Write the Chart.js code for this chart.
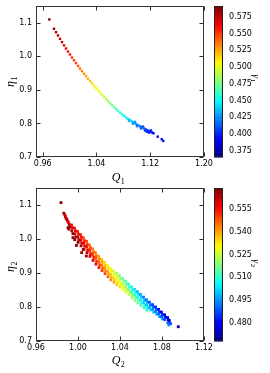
<!DOCTYPE html>
<html lang="en">
<head>
<meta charset="UTF-8">
<script src="https://cdn.jsdelivr.net/npm/chart.js@4"></script>
<title>Q vs eta scatter</title>
<style>
    html, body { margin: 0; padding: 0; background: #fff; }
    #wrap { position: relative; width: 270px; height: 373px; }
    canvas { position: absolute; left: 0; }
</style>
</head>
<body>
<div id="wrap">
    <canvas id="top" width="270" height="186" style="top:0"></canvas>
    <canvas id="bottom" width="270" height="187" style="top:186px"></canvas>
</div>
<script>
// ---- top panel: Q1 / eta1, colour = gamma1
const q1 = [
    0.9698,
    0.9768, 0.9798, 0.9827, 0.9857, 0.9887, 0.9917, 0.9946, 0.9976, 1.0006, 1.0036,
    1.0065, 1.0095, 1.0125, 1.0155, 1.0185, 1.0214, 1.0244, 1.0274, 1.0304, 1.0333,
    1.0363, 1.0393, 1.0423, 1.0452, 1.0482, 1.0512, 1.0542, 1.0571, 1.0601, 1.0631,
    1.0661, 1.0690, 1.0720, 1.0750, 1.0780, 1.0810, 1.0839, 1.0869, 1.0899, 1.0929,
    1.0958, 1.0988, 1.1018, 1.1048, 1.1077, 1.1107, 1.1137, 1.1167, 1.1196, 1.1226,
    1.1249,
    1.0884, 1.0943, 1.1003, 1.1062, 1.1122, 1.1182, 1.1211, 1.1092, 1.0973, 1.1152,
    1.1311, 1.1371, 1.1394
];
const eta1 = [
    1.110,
    1.0821, 1.0719, 1.0621, 1.0519, 1.0424, 1.0328, 1.0233, 1.0143, 1.0054, 0.9964,
    0.9881, 0.9797, 0.9713, 0.9636, 0.9558, 0.9481, 0.9409, 0.9334, 0.9263, 0.9194,
    0.9122, 0.9054, 0.8988, 0.8922, 0.8857, 0.8794, 0.8731, 0.8669, 0.8609, 0.8549,
    0.8490, 0.8433, 0.8379, 0.8322, 0.8275, 0.8227, 0.8179, 0.8137, 0.8099, 0.8057,
    0.8021, 0.7985, 0.7949, 0.7916, 0.7884, 0.7851, 0.7821, 0.7791, 0.7761, 0.7731,
    0.7707,
    0.8075, 0.7991, 0.7919, 0.7854, 0.7788, 0.7728, 0.7791, 0.7910, 0.8045, 0.7752,
    0.7606, 0.7528, 0.7478
];
const g1 = [
    0.590,
    0.586, 0.583, 0.580, 0.576, 0.573, 0.569, 0.565, 0.562, 0.558, 0.554,
    0.550, 0.547, 0.543, 0.539, 0.535, 0.531, 0.527, 0.524, 0.520, 0.516,
    0.512, 0.508, 0.504, 0.500, 0.497, 0.493, 0.489, 0.485, 0.481, 0.477,
    0.473, 0.469, 0.465, 0.461, 0.457, 0.453, 0.449, 0.445, 0.441, 0.437,
    0.433, 0.429, 0.425, 0.421, 0.417, 0.413, 0.409, 0.405, 0.401, 0.397,
    0.394,
    0.436, 0.428, 0.421, 0.413, 0.405, 0.398, 0.399, 0.414, 0.427, 0.400,
    0.392, 0.396, 0.398
];
const xTicks1 = [0.96, 1.04, 1.12, 1.20];
const cbTicks1 = [0.375, 0.400, 0.425, 0.450, 0.475, 0.500, 0.525, 0.550, 0.575];

// ---- bottom panel: Q2 / eta2, colour = gamma2
const q2 = [
    0.9838,
    0.9865, 0.9874, 0.9880,
    0.9886, 0.9895, 0.9902,
    0.9908, 0.9916, 0.9921, 0.9913,
    0.9938, 0.9947, 0.9941, 0.9952,
    0.9966, 0.9976, 0.9970, 0.9980, 0.9969,
    0.9996, 1.0006, 0.9999, 1.0008, 1.0001,
    0.9905, 0.9952, 1.0035, 1.0050, 0.9985, 1.0080,
    1.0024, 1.0033, 1.0027, 1.0036, 1.0029,
    1.0051, 1.0062, 1.0055, 1.0064, 1.0057,
    1.0082, 1.0090, 1.0083, 1.0092, 1.0086,
    1.0109, 1.0118, 1.0112, 1.0121, 1.0114,
    1.0139, 1.0148, 1.0141, 1.0150, 1.0143,
    1.0166, 1.0175, 1.0169, 1.0178, 1.0171,
    1.0196, 1.0204, 1.0198, 1.0207, 1.0200,
    1.0224, 1.0233, 1.0227, 1.0236, 1.0229,
    1.0253, 1.0262, 1.0255, 1.0264, 1.0257,
    1.0281, 1.0290, 1.0284, 1.0293, 1.0286,
    1.0310, 1.0319, 1.0312, 1.0321, 1.0314,
    1.0338, 1.0347, 1.0341, 1.0350, 1.0343,
    1.0367, 1.0376, 1.0369, 1.0378, 1.0371,
    1.0395, 1.0404, 1.0398, 1.0407, 1.0400,
    1.0424, 1.0433, 1.0427, 1.0436, 1.0429,
    1.0452, 1.0461, 1.0455, 1.0464, 1.0457,
    1.0481, 1.0490, 1.0484, 1.0493, 1.0486,
    1.0509, 1.0518, 1.0512, 1.0521, 1.0514,
    1.0538, 1.0547, 1.0541, 1.0550, 1.0543,
    1.0566, 1.0575, 1.0569, 1.0578, 1.0571,
    1.0595, 1.0604, 1.0598, 1.0607, 1.0600,
    1.0624, 1.0633, 1.0627, 1.0636, 1.0629,
    1.0652, 1.0661, 1.0655, 1.0664, 1.0657,
    1.0681, 1.0690, 1.0684, 1.0693,
    1.0710, 1.0718, 1.0712, 1.0721,
    1.0738, 1.0747, 1.0741, 1.0750,
    1.0767, 1.0775, 1.0769, 1.0778,
    1.0795, 1.0804, 1.0798, 1.0807,
    1.0825, 1.0833, 1.0827,
    1.0853, 1.0861, 1.0856,
    1.0870, 1.0880, 1.0865, 1.0955
];
const eta2 = [
    1.107,
    1.076, 1.071, 1.066,
    1.061, 1.057, 1.052,
    1.049, 1.043, 1.036, 1.029,
    1.041, 1.033, 1.024, 1.016,
    1.032, 1.024, 1.015, 1.006, 0.998,
    1.022, 1.014, 1.006, 0.998, 0.990,
    1.033, 1.004, 0.960, 0.969, 0.981, 0.950,
    1.013, 1.005, 0.996, 0.988, 0.980,
    1.003, 0.995, 0.987, 0.979, 0.970,
    0.993, 0.984, 0.977, 0.968, 0.960,
    0.982, 0.974, 0.966, 0.957, 0.949,
    0.971, 0.962, 0.954, 0.946, 0.937,
    0.960, 0.951, 0.943, 0.934, 0.926,
    0.949, 0.941, 0.932, 0.924, 0.916,
    0.940, 0.932, 0.923, 0.915, 0.907,
    0.931, 0.922, 0.914, 0.906, 0.898,
    0.922, 0.914, 0.905, 0.897, 0.889,
    0.913, 0.905, 0.896, 0.888, 0.880,
    0.906, 0.897, 0.889, 0.881, 0.873,
    0.899, 0.890, 0.882, 0.874, 0.866,
    0.892, 0.883, 0.875, 0.867, 0.859,
    0.884, 0.876, 0.867, 0.859, 0.851,
    0.876, 0.868, 0.859, 0.851, 0.844,
    0.867, 0.859, 0.851, 0.843, 0.836,
    0.859, 0.851, 0.843, 0.835, 0.827,
    0.852, 0.844, 0.836, 0.828, 0.819,
    0.845, 0.837, 0.829, 0.821, 0.812,
    0.837, 0.829, 0.821, 0.813, 0.805,
    0.829, 0.821, 0.813, 0.805, 0.798,
    0.821, 0.814, 0.806, 0.798, 0.791,
    0.814, 0.806, 0.799, 0.792,
    0.807, 0.800, 0.793, 0.785,
    0.800, 0.793, 0.786, 0.779,
    0.793, 0.786, 0.779, 0.772,
    0.785, 0.778, 0.771, 0.765,
    0.777, 0.770, 0.763,
    0.769, 0.762, 0.754,
    0.760, 0.751, 0.747, 0.742
];
const g2 = [
    0.567,
    0.566, 0.563, 0.561,
    0.562, 0.566, 0.559,
    0.558, 0.563, 0.567, 0.565,
    0.557, 0.561, 0.565, 0.568,
    0.556, 0.560, 0.563, 0.566, 0.568,
    0.555, 0.558, 0.561, 0.564, 0.567,
    0.568, 0.569, 0.567, 0.569, 0.568, 0.566,
    0.553, 0.556, 0.559, 0.562, 0.565,
    0.551, 0.554, 0.557, 0.560, 0.563,
    0.549, 0.552, 0.555, 0.558, 0.562,
    0.547, 0.550, 0.553, 0.556, 0.560,
    0.545, 0.548, 0.551, 0.554, 0.558,
    0.543, 0.546, 0.549, 0.552, 0.556,
    0.541, 0.544, 0.547, 0.550, 0.554,
    0.538, 0.541, 0.545, 0.548, 0.551,
    0.535, 0.538, 0.542, 0.545, 0.549,
    0.532, 0.535, 0.539, 0.542, 0.546,
    0.529, 0.532, 0.536, 0.539, 0.543,
    0.526, 0.529, 0.533, 0.536, 0.540,
    0.522, 0.526, 0.530, 0.533, 0.537,
    0.519, 0.523, 0.527, 0.530, 0.534,
    0.516, 0.520, 0.524, 0.527, 0.531,
    0.513, 0.517, 0.521, 0.524, 0.528,
    0.509, 0.513, 0.517, 0.521, 0.525,
    0.506, 0.510, 0.514, 0.518, 0.522,
    0.503, 0.507, 0.511, 0.515, 0.519,
    0.500, 0.504, 0.508, 0.512, 0.516,
    0.497, 0.501, 0.505, 0.509, 0.513,
    0.494, 0.498, 0.502, 0.506, 0.510,
    0.492, 0.496, 0.500, 0.504, 0.508,
    0.489, 0.493, 0.497, 0.502,
    0.487, 0.491, 0.495, 0.500,
    0.485, 0.489, 0.493, 0.498,
    0.482, 0.486, 0.491, 0.496,
    0.480, 0.484, 0.489, 0.494,
    0.478, 0.482, 0.488,
    0.476, 0.481, 0.490,
    0.478, 0.484, 0.495, 0.474
];
const xTicks2 = [0.96, 1.00, 1.04, 1.08, 1.12];
const cbTicks2 = [0.480, 0.495, 0.510, 0.525, 0.540, 0.555];

const yTicks = [0.7, 0.8, 0.9, 1.0, 1.1];

// matplotlib "jet"
function jet(t) {
    t = Math.min(1, Math.max(0, t));
    const c = k => Math.round(255 * Math.min(1, Math.max(0, 1.5 - Math.abs(4 * t - k))));
    return `rgb(${c(3)},${c(2)},${c(1)})`;
}

const tickFont = { family: 'DejaVu Sans', size: 8 };

function subLabel(ctx, x, y, main, sub, rot, size) {
    ctx.save();
    ctx.translate(x, y);
    ctx.rotate(rot);
    ctx.fillStyle = '#000';
    ctx.textBaseline = 'alphabetic';
    const fMain = 'italic ' + size + 'px "Liberation Serif"';
    const fSub = Math.round(size * 0.7) + 'px "Liberation Serif"';
    ctx.font = fMain;
    const w1 = ctx.measureText(main).width;
    ctx.font = fSub;
    const w2 = ctx.measureText(sub).width;
    const x0 = -(w1 + w2) / 2;
    ctx.font = fMain;
    ctx.fillText(main, x0, size * 0.33);
    ctx.font = fSub;
    ctx.fillText(sub, x0 + w1 + 0.5, size * 0.55);
    ctx.restore();
}

// no extra room for the end labels, the layout is fixed by hand
function noPad(s) {
    s.paddingTop = 0; s.paddingBottom = 0;
    s.paddingLeft = 0; s.paddingRight = 0;
}

// frame, inward ticks, colour bar and the axis labels
const decor = {
    id: 'decor',
    afterDatasetsDraw(chart, args, o) {
        const { ctx, chartArea: a, scales } = chart;
        const cb = scales.cb;
        ctx.save();
        // colour bar
        const n = 64;
        for (let k = 0; k < n; k++) {
            const y0 = cb.getPixelForValue(cb.min + (cb.max - cb.min) * k / n);
            const y1 = cb.getPixelForValue(cb.min + (cb.max - cb.min) * (k + 1) / n);
            ctx.fillStyle = jet((k + 0.5) / n);
            ctx.fillRect(o.barX, y1, o.barW, y0 - y1 + 0.6);
        }
        ctx.strokeStyle = '#222';
        ctx.lineWidth = 1;
        ctx.strokeRect(o.barX + 0.5, Math.round(cb.top) + 0.5, o.barW - 1, Math.round(cb.bottom - cb.top) - 1);

        // axes frame
        const L = Math.round(a.left) + 0.5, R = Math.round(a.right) - 0.5;
        const T = Math.round(a.top) + 0.5, B = Math.round(a.bottom) - 0.5;
        ctx.strokeStyle = '#333';
        ctx.strokeRect(L, T, R - L, B - T);

        ctx.beginPath();
        scales.x.ticks.forEach(t => {
            const p = Math.round(scales.x.getPixelForValue(t.value)) + 0.5;
            ctx.moveTo(p, B); ctx.lineTo(p, B - 4);
            ctx.moveTo(p, T); ctx.lineTo(p, T + 4);
        });
        scales.y.ticks.forEach(t => {
            const p = Math.round(scales.y.getPixelForValue(t.value)) + 0.5;
            ctx.moveTo(L, p); ctx.lineTo(L + 4, p);
            ctx.moveTo(R, p); ctx.lineTo(R - 4, p);
        });
        ctx.stroke();
        ctx.restore();

        subLabel(ctx, o.xTitle[0], o.xTitle[1], 'Q', o.idx, 0, 12);
        subLabel(ctx, o.yTitle[0], o.yTitle[1], 'η', o.idx, -Math.PI / 2, 12);
        subLabel(ctx, o.cbTitle[0], o.cbTitle[1], 'γ', o.idx, Math.PI / 2, 10);
    }
};

function makeChart(id, d) {
    const colors = d.g.map(v => jet((v - d.cbMin) / (d.cbMax - d.cbMin)));
    return new Chart(document.getElementById(id), {
        type: 'scatter',
        data: {
            datasets: [{
                data: d.q.map((x, i) => ({ x: x, y: d.eta[i] })),
                pointBackgroundColor: colors,
                pointBorderWidth: 0,
                pointRadius: d.r,
                pointHoverRadius: d.r,
                pointStyle: 'rect'
            }]
        },
        options: {
            responsive: false,
            animation: false,
            devicePixelRatio: 1,
            layout: { padding: { top: d.padTop, left: 0, right: 0, bottom: 0 } },
            events: [],
            plugins: {
                legend: { display: false },
                tooltip: { enabled: false },
                decor: { barX: 214, barW: 9, idx: d.idx, xTitle: d.xTitle, yTitle: d.yTitle, cbTitle: d.cbTitle }
            },
            scales: {
                x: {
                    type: 'linear', min: d.xMin, max: d.xMax,
                    afterBuildTicks: s => { s.ticks = d.xTicks.map(v => ({ value: v })); },
                    afterFit: s => { s.height = d.xH; noPad(s); },
                    grid: { display: false, drawTicks: false },
                    border: { display: false },
                    ticks: { font: tickFont, color: '#000', padding: 2, maxRotation: 0, autoSkip: false,
                             callback: v => v.toFixed(2) }
                },
                y: {
                    type: 'linear', min: 0.7, max: 1.15,
                    afterBuildTicks: s => { s.ticks = yTicks.map(v => ({ value: v })); },
                    afterFit: s => { s.width = 36; noPad(s); },
                    grid: { display: false, drawTicks: false },
                    border: { display: false },
                    ticks: { font: tickFont, color: '#000', padding: 4, autoSkip: false,
                             callback: v => v.toFixed(1) }
                },
                cb: {
                    type: 'linear', position: 'right', min: d.cbMin, max: d.cbMax,
                    afterBuildTicks: s => { s.ticks = d.cbTicks.map(v => ({ value: v })); },
                    afterFit: s => { s.width = 66; noPad(s); },
                    grid: { display: false, drawTicks: false },
                    border: { display: false },
                    ticks: { font: tickFont, color: '#000', padding: 25, autoSkip: false,
                             callback: v => v.toFixed(3) }
                }
            }
        },
        plugins: [decor]
    });
}

makeChart('top', {
    q: q1, eta: eta1, g: g1, idx: '1', r: 1.7,
    xMin: 0.95, xMax: 1.20, xTicks: xTicks1,
    cbMin: 0.366, cbMax: 0.591, cbTicks: cbTicks1,
    padTop: 6, xH: 29,
    xTitle: [118, 177], yTitle: [10, 82], cbTitle: [256, 78]
});

makeChart('bottom', {
    q: q2, eta: eta2, g: g2, idx: '2', r: 2.0,
    xMin: 0.96, xMax: 1.12, xTicks: xTicks2,
    cbMin: 0.468, cbMax: 0.569, cbTicks: cbTicks2,
    padTop: 2, xH: 32,
    xTitle: [118, 174], yTitle: [10, 81], cbTitle: [256, 77]
});
</script>
</body>
</html>
